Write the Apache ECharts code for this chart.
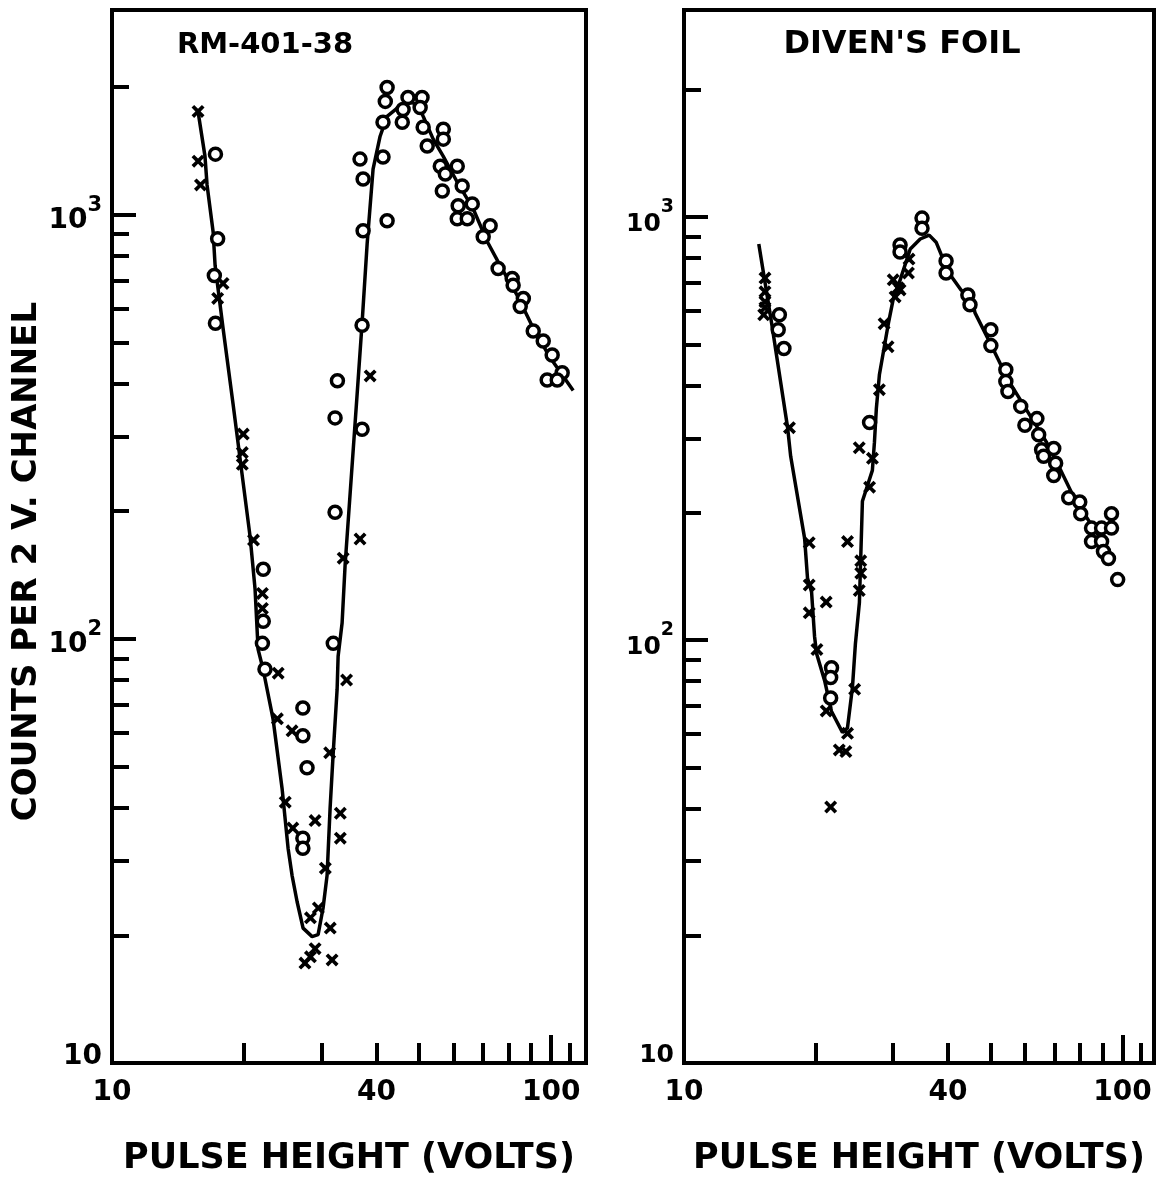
<!DOCTYPE html>
<html>
<head>
<meta charset="utf-8">
<script src="https://cdn.jsdelivr.net/npm/echarts@6/dist/echarts.min.js"></script>
<style>
html,body{margin:0;padding:0;background:#fff;}
#c{width:1157px;height:1181px;}
</style>
</head>
<body>
<div id="c"></div>
<script>
// ---- texts ----
const leftTitle = 'RM-401-38';
const rightTitle = "DIVEN'S FOIL";
const xAxisTitle = 'PULSE HEIGHT (VOLTS)';
const yAxisTitle = 'COUNTS PER 2 V. CHANNEL';

// ---- tick values ----
const xLabelValues = [10, 40, 100];
const xMinorTicks = [20, 30, 40, 50, 60, 70, 80, 90, 110];
const xMajorTicks = [100];
const yDecadeTicks = [10, 100, 1000];
const yMinorTicks = [20, 30, 40, 50, 60, 70, 80, 90, 200, 300, 400, 500, 600, 700, 800, 900, 2000];

// ---- RM-401-38 (left panel) ----
const leftCircles = [
  [17.2,1390],[17.4,878],[17.1,719],[17.2,555],
  [22.1,146],[22.1,110],[22.0,97.6],[22.3,84.8],[27.2,68.7],[27.2,59.1],[27.8,49.7],[27.2,33.9],[27.2,32.1],[31.9,97.6],
  [32.2,332],[32.6,406],[32.2,199],[37.1,549],[37.1,312],[37.3,917],[36.7,1353],[37.3,1215],
  [41.4,1652],[42.3,1996],[41.9,1851],[42.3,968],[41.4,1368],[46.0,1772],[45.8,1652],[47.2,1891],
  [50.8,1891],[50.3,1791],[51.1,1608],[52.2,1452],[56.8,1591],[56.8,1508],[55.9,1302],[61.1,1302],
  [57.4,1248],[56.5,1138],[62.7,1169],[61.4,1050],[66.1,1061],[61.1,979],[64.4,979],[70.0,888],
  [72.6,942],[75.7,747],[81.5,708],[81.9,682],[86.4,635],[85.0,608],[91.0,532],[95.9,504],
  [100.5,467],[97.9,408],[105.9,424],[103.2,408]
];
const leftCrosses = [
  [15.7,1753],[15.7,1338],[15.9,1176],[17.9,689],[17.4,635],[19.9,304],[19.8,275],[19.8,258],
  [21.0,171],[22.0,128],[22.0,118],[23.9,83],[23.8,64.8],[25.7,60.7],[24.8,41.2],[29.0,37.3],
  [25.8,35.8],[33.1,38.8],[33.1,33.9],[30.6,28.8],[29.5,23.2],[28.3,22.0],[31.4,20.8],[31.7,17.5],
  [27.5,17.2],[28.3,17.8],[29.0,18.6],[33.6,155],[34.2,80],[31.3,53.9],[38.7,417],[36.7,172]
];
const leftCurve = [
  [15.7,1753],[16.28,1375],[16.46,1176],[16.99,912],[17.17,759],[17.9,540],[18.87,357],[19.78,244],
  [20.63,174],[21.17,131],[21.51,94.5],[22.08,84.8],[23.26,64.8],[24.39,44.4],[25.17,32.1],[25.7,27.7],
  [26.39,24.0],[27.23,20.8],[28.55,19.86],[29.46,20.07],[30.24,23.2],[30.88,27.7],[31.37,39.8],
  [31.86,53.0],[32.55,76.1],[32.72,91],[33.41,109],[33.95,150],[36.14,376],[37.1,555],[38.1,855],
  [39.3,1282],[40.78,1532],[42.3,1707],[44.82,1791],[47.74,1841],[49.77,1821],[51.1,1707],
  [53.86,1508],[56.75,1375],[61.07,1195],[66.42,1033],[71.49,865],[76.53,759],[83.67,646],
  [91.0,540],[99.5,460],[112.2,385]
];

// ---- DIVEN'S FOIL (right panel) ----
const rightCircles = [
  [16.5,588],[16.4,542],[16.9,489],[21.7,86],[21.6,81.6],[21.6,73],[26.5,327],
  [34.9,995],[34.9,942],[31.1,860],[31.1,827],[39.6,788],[39.6,738],[44.4,655],[44.9,621],
  [50.1,542],[50.1,497],[54.2,436],[54.2,409],[54.8,387],[58.6,357],[59.9,322],[63.8,334],
  [64.4,306],[65.4,282],[69.7,284],[66.1,272],[70.4,262],[69.7,245],[75.4,217],[79.9,212],
  [80.3,199],[85.0,184],[89.6,184],[85.0,171],[89.6,171],[94.4,199],[94.4,184],[90.5,162],
  [92.9,156],[97.5,139]
];
const rightCrosses = [
  [15.3,718],[15.3,666],[15.3,631],[15.3,611],[15.2,588],[17.4,318],[19.3,170],[19.3,135],
  [19.3,116],[21.1,123],[20.1,95],[21.1,68],[23.6,60.2],[24.5,76.5],[21.6,40.3],[22.6,55],
  [23.4,54.5],[23.6,171],[25.3,154],[25.3,144],[25.1,131],[25.1,285],[26.9,269],[26.5,230],
  [27.9,391],[29.2,494],[28.6,560],[30.8,681],[30.0,711],[31.1,673],[30.3,648],[32.6,796],[32.5,738]
];
const rightCurve = [
  [14.81,864],[15.85,560],[17.23,318],[17.51,272],[18.84,174],[19.13,140],[19.54,130],[19.85,102],
  [20.06,93],[20.92,80.3],[21.69,67.9],[22.98,60.5],[23.59,61.9],[24.22,77.3],[24.6,98.1],
  [25.12,122.6],[25.52,213],[26.89,252],[27.18,293],[27.46,353],[27.9,424],[29.24,560],[30.01,641],
  [30.8,688],[32.81,841],[34.57,888],[36.24,907],[37.58,873],[38.98,796],[40.65,726],[42.84,673],
  [45.38,638],[46.1,594],[50.4,494],[55.1,409],[61.5,340],[67.2,293],[72.3,252],[77.4,218],
  [85,187],[91.0,168],[94.4,153]
];

// ---- rendering ----
const FONT = 'DejaVu Sans';
const BLACK = '#000';
const CROSS = 'path://M2,0 L5,3 L8,0 L10,2 L7,5 L10,8 L8,10 L5,7 L2,10 L0,8 L3,5 L0,2 Z';

function yLabel(v) {
  const e = Math.round(Math.log10(v));
  return e === 1 ? '{c|10}' : '{a|10}{b|' + e + '}';
}
function richFor(size, supSize) {
  return {
    a: {fontSize: size, fontWeight: 'bold', fontFamily: FONT, color: BLACK, verticalAlign: 'bottom', lineHeight: 40},
    b: {fontSize: supSize, fontWeight: 'bold', fontFamily: FONT, color: BLACK, verticalAlign: 'top', lineHeight: 40},
    c: {fontSize: size, fontWeight: 'bold', fontFamily: FONT, color: BLACK, verticalAlign: 'top', lineHeight: 40}
  };
}
const tickLine = {color: BLACK, width: 4};

function xAxesFor(gi, max) {
  return [
    {gridIndex: gi, type: 'log', logBase: 10, min: 10, max: max, position: 'bottom',
     axisLine: {show: false}, splitLine: {show: false}, axisLabel: {show: false},
     axisTick: {show: true, inside: true, length: 20, lineStyle: tickLine, customValues: xMinorTicks}},
    {gridIndex: gi, type: 'log', logBase: 10, min: 10, max: max, position: 'bottom',
     axisLine: {show: false}, splitLine: {show: false},
     axisTick: {show: true, inside: true, length: 28, lineStyle: tickLine, customValues: xMajorTicks},
     axisLabel: {show: true, customValues: xLabelValues, fontSize: 28, fontWeight: 'bold', fontFamily: FONT, color: BLACK, margin: 16},
     name: xAxisTitle, nameLocation: 'middle', nameGap: 78,
     nameTextStyle: {fontSize: 35, fontWeight: 'bold', fontFamily: FONT, color: BLACK}}
  ];
}
function yAxesFor(gi, max, withName, size, supSize) {
  const major = {gridIndex: gi, type: 'log', logBase: 10, min: 10, max: max, position: 'left',
     axisLine: {show: false}, splitLine: {show: false},
     axisTick: {show: true, inside: true, length: 24, lineStyle: tickLine, customValues: yDecadeTicks},
     axisLabel: {show: true, customValues: yDecadeTicks, formatter: yLabel, rich: richFor(size, supSize), margin: 10}};
  if (withName) {
    major.name = yAxisTitle;
    major.nameLocation = 'middle';
    major.nameGap = 66;
    major.nameTextStyle = {fontSize: 34, fontWeight: 'bold', fontFamily: FONT, color: BLACK, padding: [0, 50, 0, 0]};
  }
  return [
    major,
    {gridIndex: gi, type: 'log', logBase: 10, min: 10, max: max, position: 'left',
     axisLine: {show: false}, splitLine: {show: false}, axisLabel: {show: false},
     axisTick: {show: true, inside: true, length: 17, lineStyle: tickLine, customValues: yMinorTicks}}
  ];
}

function panelSeries(xi, yi, curve, circles, crosses) {
  return [
    {type: 'line', xAxisIndex: xi, yAxisIndex: yi, data: curve, symbol: 'none', showSymbol: false,
     lineStyle: {color: BLACK, width: 3.5}, z: 2, silent: true},
    {type: 'scatter', xAxisIndex: xi, yAxisIndex: yi, data: circles, symbol: 'circle', symbolSize: 12,
     itemStyle: {color: '#fff', borderColor: BLACK, borderWidth: 3.5, opacity: 1}, z: 3, silent: true},
    {type: 'scatter', xAxisIndex: xi, yAxisIndex: yi, data: crosses, symbol: CROSS, symbolSize: 13,
     itemStyle: {color: BLACK, opacity: 1}, z: 3, silent: true}
  ];
}

const chart = echarts.init(document.getElementById('c'), null, {renderer: 'canvas'});
chart.setOption({
  animation: false,
  backgroundColor: '#fff',
  grid: [
    {left: 112, top: 10, width: 474, height: 1059, show: true, borderColor: BLACK, borderWidth: 4, backgroundColor: 'transparent'},
    {left: 684, top: 10, width: 470, height: 1057, show: true, borderColor: BLACK, borderWidth: 4, backgroundColor: 'transparent'}
  ],
  xAxis: [].concat(xAxesFor(0, 120), xAxesFor(1, 118)),
  yAxis: [].concat(yAxesFor(0, 3040, true, 28, 21), yAxesFor(1, 3090, false, 25, 19)),
  graphic: [
    {type: 'text', x: 265, y: 45, z: 10,
     style: {text: leftTitle, font: 'bold 29px "DejaVu Sans"', fill: BLACK, align: 'center', verticalAlign: 'middle', textAlign: 'center', textVerticalAlign: 'middle'}},
    {type: 'text', x: 902, y: 45, z: 10,
     style: {text: rightTitle, font: 'bold 32px "DejaVu Sans"', fill: BLACK, align: 'center', verticalAlign: 'middle', textAlign: 'center', textVerticalAlign: 'middle'}}
  ],
  series: [].concat(
    panelSeries(0, 0, leftCurve, leftCircles, leftCrosses),
    panelSeries(2, 2, rightCurve, rightCircles, rightCrosses)
  )
});
</script>
</body>
</html>
